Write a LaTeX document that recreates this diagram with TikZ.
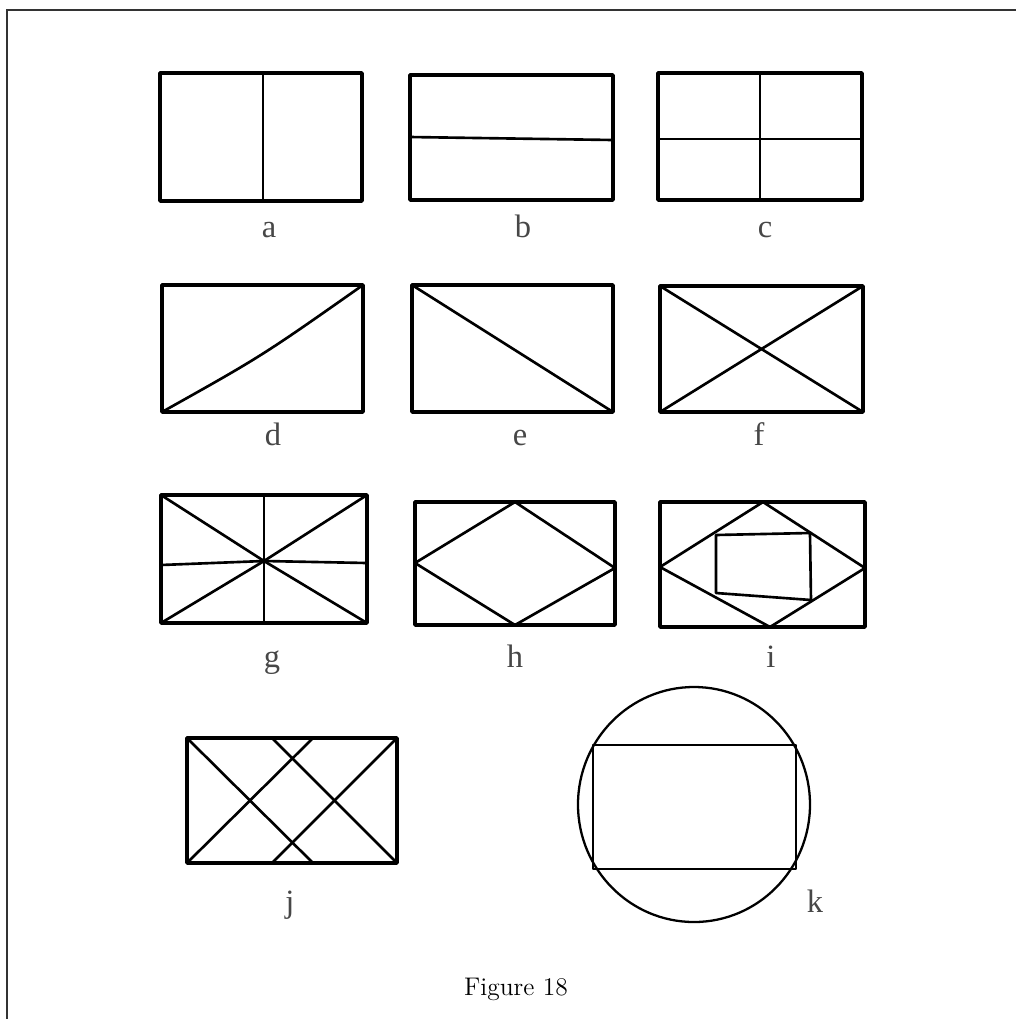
\documentclass[tikz,border=0pt]{standalone}
\usepackage{fontspec}
\newfontfamily\lblfont{Liberation Serif}
\begin{document}
\begin{tikzpicture}[x=0.02cm,y=-0.02cm,
  frame/.style={line width=1pt,black!80},
  outline/.style={line width=2.1pt,line join=round},
  inner/.style={line width=1.5pt,line join=round,line cap=round},
  thin/.style={line width=1.3pt},
  lbl/.style={anchor=base,text=black!72,font=\lblfont\fontsize{18.5}{22}\selectfont,inner sep=0pt},
  captxt/.style={anchor=base,inner sep=0pt,font=\fontsize{14.5}{17}\selectfont}]
\useasboundingbox (0,0) rectangle (1016,1019);
\draw[frame] (7,1019) -- (7,10) -- (1016,10);

% a
\draw[outline] (160,73) rectangle (362,201);
\draw[inner] (263,73) -- (263,201);
% b
\draw[outline] (410,75) rectangle (613,200);
\draw[inner] (410,137) -- (613,140);
% c
\draw[outline] (658,73) rectangle (862,200);
\draw[inner] (760,73) -- (760,200);
\draw[inner] (658,139) -- (862,139);

% d
\draw[outline] (162,285) rectangle (363,412);
\draw[inner] (162,412) .. controls (262,356) .. (363,285);
% e
\draw[outline] (412,285) rectangle (613,412);
\draw[inner] (412,285) -- (613,412);
% f
\draw[outline] (660,286) rectangle (863,412);
\draw[inner] (660,286) -- (863,412);
\draw[inner] (660,412) -- (863,286);

% g
\draw[outline] (161,495) rectangle (367,623);
\draw[inner] (161,495) -- (264,561) -- (367,623);
\draw[inner] (161,623) -- (264,561) -- (367,495);
\draw[inner] (264,495) -- (264,623);
\draw[inner] (161,565) -- (264,561) -- (367,563);
% h
\draw[outline] (415,502) rectangle (615,625);
\draw[inner] (515,502) -- (615,568) -- (515,625) -- (415,563) -- cycle;
% i
\draw[outline] (660,502) rectangle (865,627);
\draw[inner] (763,502) -- (865,568) -- (770,627) -- (660,567) -- cycle;
\draw[inner] (716,535) -- (810,533) -- (811,600) -- (716,593) -- cycle;

% j
\draw[outline] (187,738) rectangle (397,863);
\draw[inner] (187,738) -- (313,863);
\draw[inner] (272,738) -- (397,863);
\draw[inner] (187,863) -- (313,738);
\draw[inner] (272,863) -- (397,738);

% k
\draw[thin] (694,804.5) ellipse [x radius=116, y radius=117.5];
\draw[inner] (593,745) rectangle (796,869);

% labels
\node[lbl] (la) at (269,237) {a};
\node[lbl] (lb) at (523,237) {b};
\node[lbl] (lc) at (765,237) {c};
\node[lbl] (ld) at (273,445) {d};
\node[lbl] (le) at (520,445) {e};
\node[lbl] (lf) at (759,445) {f};
\node[lbl] (lg) at (272,667) {g};
\node[lbl] (lh) at (515,667) {h};
\node[lbl] (li) at (771,667) {i};
\node[lbl] (lj) at (290,912) {j};
\node[lbl] (lk) at (815,912) {k};

\node[captxt] (cap) at (516,995) {Figure 18};
\end{tikzpicture}
\end{document}
